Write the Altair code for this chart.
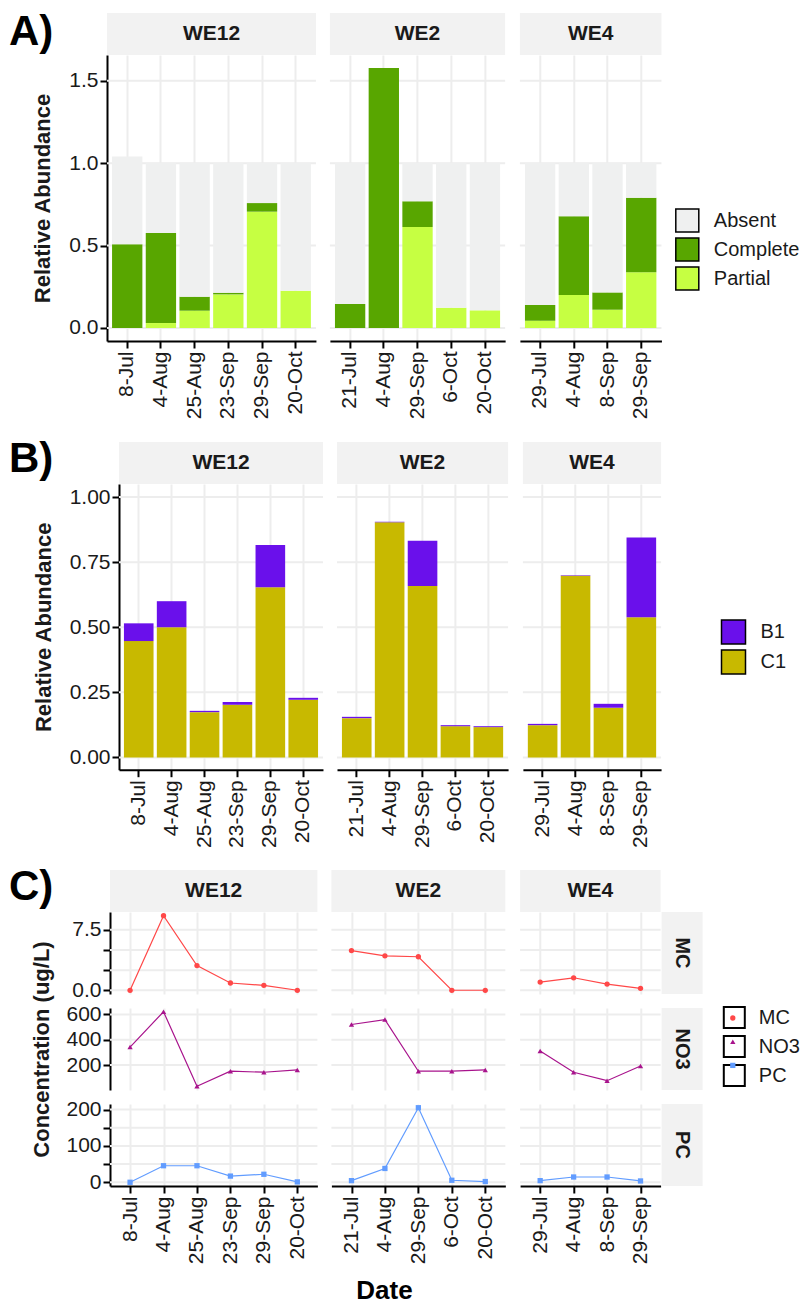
import altair as alt
import pandas as pd

FONT = "Liberation Sans"
GRID = "#EDEDED"
STRIP = "#F2F2F2"
TXT = "#1a1a1a"

sites = ["WE12", "WE2", "WE4"]
dates = {
    "WE12": ["8-Jul", "4-Aug", "25-Aug", "23-Sep", "29-Sep", "20-Oct"],
    "WE2": ["21-Jul", "4-Aug", "29-Sep", "6-Oct", "20-Oct"],
    "WE4": ["29-Jul", "4-Aug", "8-Sep", "29-Sep"],
}

# ---- Panel A: stacked amounts (Partial bottom, Complete, Absent on top)
a_types = ["Absent", "Complete", "Partial"]
a_colors = ["#EFF0F0", "#58A600", "#C6FF42"]
a_partial = {"WE12": [0.0, 0.03, 0.105, 0.204, 0.706, 0.226],
             "WE2": [0.0, 0.0, 0.613, 0.123, 0.107],
             "WE4": [0.044, 0.2, 0.111, 0.338]}
a_complete = {"WE12": [0.509, 0.546, 0.085, 0.010, 0.052, 0.0],
              "WE2": [0.146, 1.578, 0.156, 0.0, 0.0],
              "WE4": [0.096, 0.478, 0.105, 0.453]}
a_absent = {"WE12": [0.532, 0.424, 0.81, 0.786, 0.242, 0.774],
            "WE2": [0.854, 0.0, 0.231, 0.877, 0.893],
            "WE4": [0.86, 0.322, 0.784, 0.209]}

# ---- Panel B
b_types = ["B1", "C1"]
b_colors = ["#6A10EB", "#C8B900"]
b_c1 = {"WE12": [0.447, 0.50, 0.174, 0.202, 0.654, 0.2215],
        "WE2": [0.151, 0.903, 0.658, 0.12, 0.1165],
        "WE4": [0.124, 0.698, 0.191, 0.538]}
b_b1 = {"WE12": [0.068, 0.10, 0.005, 0.0105, 0.162, 0.0075],
        "WE2": [0.005, 0.002, 0.174, 0.004, 0.0035],
        "WE4": [0.005, 0.002, 0.015, 0.307]}

# ---- Panel C
c_params = ["MC", "NO3", "PC"]
c_colors = ["#FF4848", "#A8138C", "#619CFF"]
c_shapes = ["circle", "triangle-up", "square"]
c_values = {
    "MC": {"WE12": [0.0, 9.25, 3.06, 0.9, 0.61, 0.0],
           "WE2": [4.93, 4.28, 4.16, 0.0, 0.0],
           "WE4": [1.02, 1.55, 0.77, 0.24]},
    "NO3": {"WE12": [342, 621, 32, 151, 143, 161],
            "WE2": [520, 559, 151, 151, 161],
            "WE4": [311, 143, 76, 192]},
    "PC": {"WE12": [0.0, 45.5, 45.5, 17, 22, 1],
           "WE2": [4.5, 38, 205, 5.5, 2],
           "WE4": [4.5, 14.5, 14.5, 3.6]},
}
c_domains = {"MC": [-0.4625, 9.7125], "NO3": [2.55, 650.45], "PC": [-10.25, 215.25]}
c_ticks = {"MC": [0, 2.5, 5, 7.5], "NO3": [200, 400, 600], "PC": [0, 50, 100, 150, 200]}
c_fmt = {"MC": ".1f", "NO3": "d", "PC": "d"}

# ---- layout (grid columns shared by all rows; each panel sits at an offset in its column)
COLW = [216, 178.2, 145.6]
COLSP = 6.9
OFF = {"A": [0, 0, 4.1], "B": [12, 7.1, 7.1], "C": [3, 1.5, 4.3]}
UNIT = {"A": 33.7, "B": 32.9, "C": 33.45}


def x_axis(show):
    if show:
        return alt.Axis(title=None, labelAngle=-90, labelFont=FONT, labelFontSize=21,
                        labelColor=TXT, labelPadding=3, labelOverlap=False,
                        tickColor="black", tickWidth=2, tickSize=7,
                        domainColor="black", domainWidth=2,
                        grid=True, gridColor=GRID, gridWidth=2, bandPosition=0.5)
    return alt.Axis(title=None, labels=False, ticks=False, domain=False,
                    grid=True, gridColor=GRID, gridWidth=2, bandPosition=0.5)


def y_axis(show, ticks, fmt, off, title=None, tpad=14):
    if show:
        kw = dict(values=ticks, format=fmt, labelFont=FONT, labelFontSize=21, labelColor=TXT,
                  labelPadding=2, tickColor="black", tickWidth=2, tickSize=7, offset=-off,
                  domainColor="black", domainWidth=2, grid=False)
        if title:
            kw.update(title=title, titleFont=FONT, titleFontSize=22, titleFontWeight="bold",
                      titleColor=TXT, titlePadding=tpad)
        else:
            kw.update(title=None)
        return alt.Axis(**kw)
    return None


def ygrid(ticks, yscale, yaxis, off, w):
    d = pd.DataFrame({"value": ticks})
    return alt.Chart(d).mark_rule(color=GRID, strokeWidth=2).encode(
        y=alt.Y("value:Q", scale=yscale, axis=yaxis), x=alt.value(off), x2=alt.value(off + w))


def blank(w, h):
    return alt.Chart(pd.DataFrame({"v": [0]})).mark_point(opacity=0).encode(
        x=alt.value(0), y=alt.value(0)).properties(width=w, height=h)


def strip_top(label, off, width, h=42):
    d = pd.DataFrame({"lab": [label]})
    r = alt.Chart(d).mark_rect(color=STRIP).encode(
        x=alt.value(off), x2=alt.value(off + width), y=alt.value(-h), y2=alt.value(0))
    t = alt.Chart(d).mark_text(font=FONT, fontSize=21, fontWeight="bold", color=TXT).encode(
        x=alt.value(off + width / 2), y=alt.value(-h / 2), text="lab:N")
    return [r, t]


def strip_right(label, x0, height):
    d = pd.DataFrame({"lab": [label]})
    r = alt.Chart(d).mark_rect(color=STRIP).encode(
        x=alt.value(x0 + 1), x2=alt.value(x0 + 42), y=alt.value(0), y2=alt.value(height))
    t = alt.Chart(d).mark_text(font=FONT, fontSize=20, fontWeight="bold", color=TXT,
                               angle=90).encode(
        x=alt.value(x0 + 21.5), y=alt.value(height / 2), text="lab:N")
    return [r, t]


def free_text(lab, x, y, size, align="left", baseline="top"):
    d = pd.DataFrame({"lab": [lab]})
    return alt.Chart(d).mark_text(font=FONT, fontSize=size, fontWeight="bold", color="black",
                                  align=align, baseline=baseline).encode(
        x=alt.value(x), y=alt.value(y), text="lab:N")


def bar_df(site, types, series, orders):
    rows = []
    for t, ser, o in zip(types, series, orders):
        for d, v in zip(dates[site], ser[site]):
            rows.append({"date": d, "type": t, "value": v, "ord": o})
    return pd.DataFrame(rows)


def bar_cells(row, types, colors, stack_types, series, orders, height, ydom, yticks, yfmt,
              ytitle, lab, lab_y, legend_xy, key):
    panels = []
    for i, s in enumerate(sites):
        n = len(dates[s])
        w = UNIT[row] * (n + 0.2)
        o = OFF[row][i]
        df = bar_df(s, stack_types, series, orders)
        leg = None
        if i == 2:
            leg = alt.Legend(orient="none", legendX=legend_xy[0], legendY=legend_xy[1],
                             title=None, symbolType="square", symbolSize=key * key,
                             symbolStrokeColor="black", symbolStrokeWidth=1.5, symbolOpacity=1,
                             labelFont=FONT, labelFontSize=20, labelColor=TXT, labelOffset=14,
                             rowPadding=0)
        yscale = alt.Scale(domain=ydom, nice=False, zero=False)
        yax = y_axis(i == 0, yticks, yfmt, o, ytitle)
        bars = alt.Chart(df).mark_bar().encode(
            x=alt.X("date:N", sort=dates[s],
                    scale=alt.Scale(paddingInner=0.1, paddingOuter=0.15, range=[o, o + w]),
                    axis=x_axis(True)),
            y=alt.Y("value:Q", stack="zero", scale=yscale, axis=yax),
            color=alt.Color("type:N", scale=alt.Scale(domain=types, range=colors), legend=leg),
            order=alt.Order("ord:Q", sort="ascending"),
        )
        layers = [ygrid(yticks, yscale, yax, o, w), bars] + strip_top(s, o, w)
        if i == 0:
            layers.append(free_text(lab, -98, lab_y, 42))
        panels.append(alt.layer(*layers).properties(width=COLW[i], height=height))
    return panels


cellsA = bar_cells("A", a_types, a_colors, ["Partial", "Complete", "Absent"],
                   [a_partial, a_complete, a_absent], [0, 1, 2],
                   286, [-0.079, 1.657], [0, 0.5, 1.0, 1.5], ".1f",
                   "Relative Abundance", "A)", -43, (159, 153), 23)

cellsB = bar_cells("B", b_types, b_colors, ["C1", "B1"], [b_c1, b_b1], [0, 1],
                   285.7, [-0.047, 1.05], [0, 0.25, 0.5, 0.75, 1.0], ".2f",
                   "Relative Abundance", "B)", -44.6, (204.7, 135), 24)

# ---- Panel C cells
RH = 82


def c_cell(i, s, k, p):
    n = len(dates[s])
    w = UNIT["C"] * (n + 0.2)
    o = OFF["C"][i]
    df = pd.DataFrame({"date": dates[s], "value": c_values[p][s], "param": p})
    yscale = alt.Scale(domain=c_domains[p], nice=False, zero=False)
    yax = y_axis(i == 0, c_ticks[p], c_fmt[p], o,
                 "Concentration (ug/L)" if k == 1 else None, 12)
    x = alt.X("date:N", sort=dates[s], scale=alt.Scale(type="point", padding=0.6,
                                                       range=[o, o + w]),
              axis=x_axis(k == 2))
    y = alt.Y("value:Q", scale=yscale, axis=yax)
    base = alt.Chart(df)
    line = base.mark_line(color=c_colors[k], strokeWidth=1.2).encode(x=x, y=y)
    layers = [ygrid(c_ticks[p], yscale, yax, o, w), line]
    if i == 2 and k == 1:
        # coloured markers of the C legend (labels come from the key-box legend)
        leg_pts = alt.Legend(orient="none", legendX=207, legendY=0, title=None,
                             symbolSize=28, symbolOffset=0, symbolStrokeWidth=0,
                             labelFont=FONT, labelFontSize=20, labelExpr="''",
                             labelOffset=10, rowPadding=3.7, symbolOpacity=1)
        pts = base.mark_point(filled=True, size=28, opacity=1).encode(
            x=x, y=y,
            color=alt.Color("param:N", scale=alt.Scale(domain=c_params, range=c_colors),
                            legend=leg_pts),
            shape=alt.Shape("param:N", scale=alt.Scale(domain=c_params, range=c_shapes),
                            legend=leg_pts))
    else:
        pts = base.mark_point(filled=True, size=28, opacity=1, color=c_colors[k],
                              shape=c_shapes[k]).encode(x=x, y=y)
    layers.append(pts)
    if i == 2 and k == 0:
        # key boxes + labels of the C legend, drawn from the parameter list
        leg_box = alt.Legend(orient="none", legendX=207, legendY=94, title=None,
                             symbolType="square", symbolSize=441, symbolStrokeColor="black",
                             symbolStrokeWidth=2, symbolOpacity=1, symbolFillColor="white",
                             labelFont=FONT, labelFontSize=20, labelColor=TXT,
                             labelOffset=13, rowPadding=0)
        boxdf = pd.DataFrame({"key": c_params})
        box = alt.Chart(boxdf).mark_square(size=1, color="white").encode(
            x=alt.value(o + w + 100), y=alt.value(RH + 30),
            fill=alt.Fill("key:N", scale=alt.Scale(domain=c_params, range=["white"] * 3),
                          legend=leg_box))
        layers.append(box)
    if k == 0:
        layers += strip_top(s, o, w)
    if i == 2:
        layers += strip_right(p, o + w, RH)
    if i == 0 and k == 0:
        layers.append(free_text("C)", -98, -44.7, 42))
    if i == 0 and k == 2:
        layers.append(free_text("Date", 277.5, 187.3, 26, align="center", baseline="middle"))
    return alt.layer(*layers).properties(width=COLW[i], height=RH)


cells = []
cells += cellsA
cells += [blank(1, 114.3) for _ in range(3)]
cells += cellsB
cells += [blank(1, 113.7) for _ in range(3)]
for k, p in enumerate(c_params):
    cells += [c_cell(i, s, k, p) for i, s in enumerate(sites)]

chart = alt.concat(*cells, columns=3, spacing={"row": 14, "column": COLSP}, bounds="flush",
                   align="each").resolve_scale(
    x="independent", y="independent", color="independent", shape="independent",
    fill="independent"
).properties(padding={"left": 0, "top": 2, "right": 0, "bottom": 0}).configure(
    font=FONT, view=alt.ViewConfig(stroke="transparent")
)

chart.save("out.html", embed_options={"renderer": "svg", "actions": False})
